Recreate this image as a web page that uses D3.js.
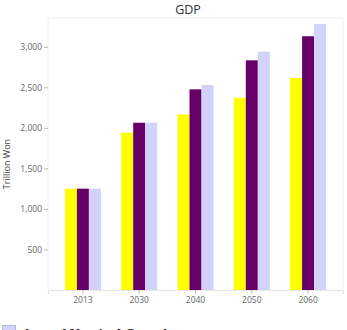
<!DOCTYPE html>
<html>
<head>
<meta charset="utf-8">
<script src="https://cdn.jsdelivr.net/npm/d3@7"></script>
<style>
  body { margin: 0; background: #fff; }
  svg { display: block; }
</style>
</head>
<body>
<div class="chart"></div>
<script>
const years = ["2013", "2030", "2040", "2050", "2060"];
const seriesNames = ["Scenario A", "Scenario B", "Annual Nominal Growth"];
const seriesA = [1250, 1940, 2165, 2370, 2615];
const seriesB = [1250, 2063, 2475, 2833, 3130];
const seriesC = [1250, 2063, 2528, 2940, 3280];
const yTicks = [500, 1000, 1500, 2000, 2500, 3000];
const colors = ["#ffff00", "#660066", "#d2d2fa"];

const width = 347, height = 330;
const margin = {top: 18, right: 4, bottom: 40, left: 48};

const svg = d3.select(".chart")
  .append("svg")
  .attr("width", width)
  .attr("height", height);

const x = d3.scaleBand()
  .domain(years)
  .range([margin.left, width - margin.right])
  .paddingInner(0.36)
  .paddingOuter(0.3);

const xs = d3.scaleBand()
  .domain(seriesNames)
  .range([0, x.bandwidth()]);

const y = d3.scaleLinear()
  .domain([0, 3355])
  .range([height - margin.bottom, margin.top]);

// plot frame
svg.append("rect")
  .attr("x", margin.left)
  .attr("y", margin.top)
  .attr("width", width - margin.right - margin.left)
  .attr("height", height - margin.bottom - margin.top)
  .attr("fill", "none")
  .attr("stroke", "#f0f0f0");

const data = [seriesA, seriesB, seriesC];

years.forEach(function(yr, i) {
  const g = svg.append("g").attr("transform", `translate(${x(yr)},0)`);
  data.forEach(function(s, j) {
    g.append("rect")
      .attr("x", xs(seriesNames[j]))
      .attr("y", y(s[i]))
      .attr("width", xs.bandwidth())
      .attr("height", y(0) - y(s[i]))
      .attr("fill", colors[j]);
  });
});

// axes
const yAxis = svg.append("g")
  .attr("transform", `translate(${margin.left},0)`)
  .call(d3.axisLeft(y).tickValues(yTicks).tickSize(4).tickPadding(2).tickFormat(d3.format(",")));
yAxis.select(".domain").remove();
yAxis.selectAll("line").attr("stroke", "#bbb");
yAxis.selectAll("text").attr("fill", "#666").style("font", "8.5px 'Open Sans', sans-serif");

const xAxis = svg.append("g")
  .attr("transform", `translate(0,${height - margin.bottom})`)
  .call(d3.axisBottom(x).tickSize(4).tickPadding(3));
xAxis.select(".domain").attr("stroke", "#e6e6e6");
xAxis.selectAll("line").attr("stroke", "#bbb");
xAxis.selectAll("text").attr("fill", "#666").style("font", "8.5px 'Open Sans', sans-serif");

// title
svg.append("text")
  .attr("x", 188)
  .attr("y", 14)
  .attr("text-anchor", "middle")
  .attr("fill", "#333")
  .style("font", "12.5px 'Open Sans', sans-serif")
  .text("GDP");

svg.append("text")
  .attr("transform", `translate(10,${(margin.top + height - margin.bottom) / 2 + 10}) rotate(-90)`)
  .attr("text-anchor", "middle")
  .attr("fill", "#444")
  .style("font", "9px 'Open Sans', sans-serif")
  .text("Trillion Won");

// legend (cut off at bottom edge, as in the source)
svg.append("rect")
  .attr("x", 2.5)
  .attr("y", 325.5)
  .attr("width", 13)
  .attr("height", 12)
  .attr("fill", colors[2])
  .attr("stroke", "#b8b8e0");

svg.append("text")
  .attr("x", 22)
  .attr("y", 338.5)
  .attr("fill", "#222")
  .style("font", "bold 14px 'Liberation Serif', serif")
  .text(seriesNames[2]);
</script>
</body>
</html>
